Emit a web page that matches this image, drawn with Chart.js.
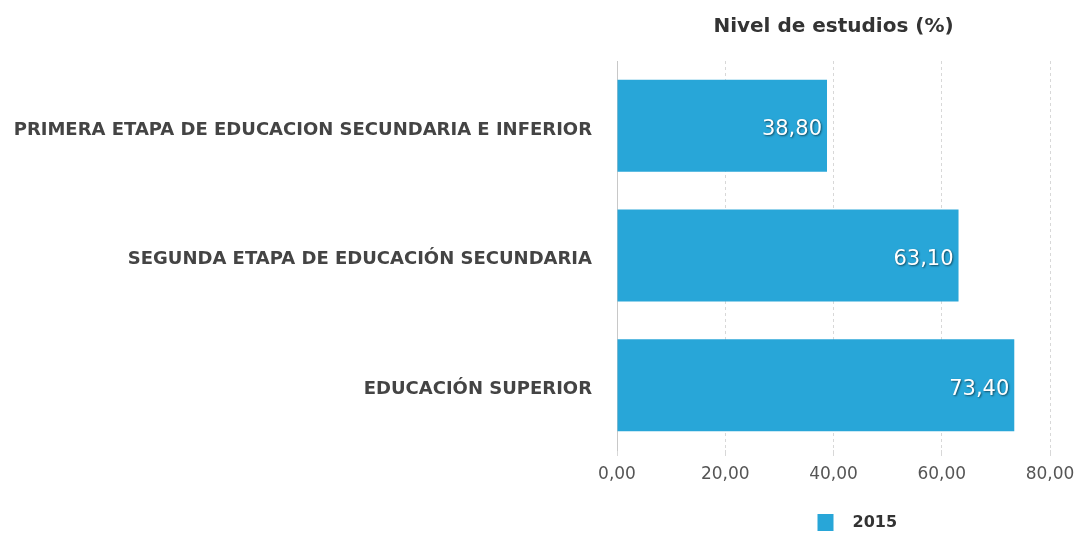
<!DOCTYPE html>
<html>
<head>
<meta charset="utf-8">
<script src="https://cdn.jsdelivr.net/npm/chart.js@4/dist/chart.umd.min.js"></script>
<style>
  html, body { margin: 0; padding: 0; background: #fff; }
  #wrap { width: 1080px; height: 533px; position: relative; }
</style>
</head>
<body>
<div id="wrap"><canvas id="nivel"></canvas></div>
<script>
 var categorias = ['PRIMERA ETAPA DE EDUCACION SECUNDARIA E INFERIOR', 'SEGUNDA ETAPA DE EDUCACIÓN SECUNDARIA', 'EDUCACIÓN SUPERIOR'];
 var valores2015 = [38.80, 63.10, 73.40];
 var serie = '2015';
 var titulo = 'Nivel de estudios (%)';
 var azul = '#28a6d8';
 var fuente = '"DejaVu Sans", Verdana, sans-serif';

 function coma(v){ return Number(v).toFixed(2).replace('.', ','); }

 // titulo, leyenda y etiquetas de valor dibujados a mano
 var extras = {
   id: 'extras',
   afterDatasetsDraw: function(chart){
     var ctx = chart.ctx;
     var meta = chart.getDatasetMeta(0);
     ctx.save();
     ctx.font = '21px ' + fuente;
     ctx.textAlign = 'right';
     ctx.textBaseline = 'middle';
     ctx.fillStyle = '#fff';
     ctx.shadowColor = 'rgba(0,0,0,0.55)';
     ctx.shadowBlur = 2;
     ctx.shadowOffsetX = 1;
     ctx.shadowOffsetY = 1;
     meta.data.forEach(function(bar, i){
       ctx.fillText(coma(valores2015[i]), bar.x - 5, bar.y + 4);
     });
     ctx.restore();
   },
   afterDraw: function(chart){
     var ctx = chart.ctx, ca = chart.chartArea;
     var cx = (ca.left + ca.right) / 2;
     ctx.save();
     ctx.fillStyle = '#333';
     ctx.font = 'bold 20px ' + fuente;
     ctx.textAlign = 'center';
     ctx.textBaseline = 'middle';
     ctx.fillText(titulo, cx, 27);

     ctx.font = 'bold 16px ' + fuente;
     ctx.textAlign = 'left';
     var bx = cx - 16;
     ctx.fillStyle = azul;
     ctx.fillRect(bx, 514, 16, 17);
     ctx.fillStyle = '#333';
     ctx.fillText(serie, bx + 35, 523);
     ctx.restore();
   }
 };

 var graf = new Chart(document.getElementById('nivel'), {
   type: 'bar',
   data: {
     labels: categorias,
     datasets: [{
       label: serie,
       data: valores2015,
       backgroundColor: azul,
       barPercentage: 0.71,
       categoryPercentage: 1.0
     }]
   },
   options: {
     indexAxis: 'y',
     responsive: true,
     maintainAspectRatio: false,
     animation: false,
     layout: { padding: { top: 61, right: 30, bottom: 0, left: 0 } },
     plugins: {
       legend: { display: false },
       title: { display: false },
       tooltip: { enabled: false }
     },
     scales: {
       x: {
         min: 0,
         max: 80,
         ticks: {
           stepSize: 20,
           padding: 8,
           color: '#555',
           font: { family: fuente, size: 17 },
           callback: function(v){ return coma(v); }
         },
         grid: { color: '#d8d8d8', tickLength: 6 },
         border: { display: false, dash: [3, 3] },
         afterFit: function(s){ s.height = 83; s.paddingLeft = 0; s.paddingRight = 0; }
       },
       y: {
         ticks: {
           padding: 17,
           labelOffset: 4,
           color: '#444',
           font: { family: fuente, size: 18, weight: 'bold' }
         },
         grid: { display: false },
         border: { display: true, color: '#c8c8c8', width: 1 },
         afterFit: function(s){ s.width = 617; }
       }
     }
   },
   plugins: [extras]
 });
</script>
</body>
</html>
